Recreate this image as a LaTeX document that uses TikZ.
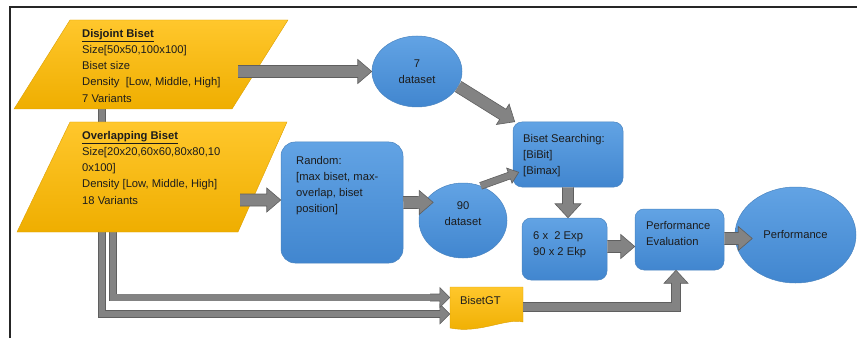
\documentclass[tikz,border=0pt]{standalone}
\usepackage{fontspec}
\setmainfont{Liberation Sans}
\usetikzlibrary{shapes,arrows,positioning,calc}

\definecolor{goldtop}{HTML}{FFC72C}
\definecolor{goldbot}{HTML}{EFAE00}
\definecolor{goldedge}{HTML}{DDA000}
\definecolor{bluetop}{HTML}{62A3E4}
\definecolor{bluebot}{HTML}{4186CF}
\definecolor{blueedge}{HTML}{4A84C0}
\definecolor{arrowfill}{HTML}{838383}
\definecolor{arrowedge}{HTML}{5F5F5F}
\definecolor{inktext}{HTML}{1C1C1C}

\begin{document}
\begin{tikzpicture}[x=1pt, y=1pt,
    font=\fontsize{11.2}{16.2}\selectfont,
    txt/.style={inner sep=0pt, align=left, text=inktext},
    gold/.style={top color=goldtop, bottom color=goldbot, draw=goldedge, line width=0.4pt},
    bluebox/.style={rectangle, rounded corners=#1, top color=bluetop, bottom color=bluebot,
      draw=blueedge, line width=0.5pt, inner sep=0pt},
    bluebox/.default=9pt,
    blueoval/.style={ellipse, top color=bluetop, bottom color=bluebot, draw=blueedge,
      line width=0.5pt, inner sep=0pt, align=center, text=inktext},
    % shaft half width, head half width, head length
    blockarrow/.style n args={3}{fill=arrowfill, draw=arrowedge, line width=0.6pt, line join=miter,
      to path={let \p1=(\tikztostart), \p2=(\tikztotarget),
        \n1={atan2(\y2-\y1,\x2-\x1)}, \n2={veclen(\x2-\x1,\y2-\y1)} in
        [shift={(\p1)}, rotate=\n1]
        (0,#1) -- (\n2-#3,#1) -- (\n2-#3,#2) -- (\n2,0) -- (\n2-#3,-#2) -- (\n2-#3,-#1) -- (0,-#1)}},
    fat/.style={blockarrow={6}{12}{14}},
    thin/.style={blockarrow={3.5}{8}{10}},
    slim/.style={blockarrow={3.5}{10}{10}},
    gtshaft/.style={draw=arrowedge, line width=0.6pt, double=arrowfill, double distance=6.4pt},
  ]
  \useasboundingbox (0,0) rectangle (857,338);
  \draw[line width=1.5pt, black!85] (10,0) -- (10,331) -- (857,331);

  % ground truth feeds, they run under the input sets
  \coordinate (d-drop) at (102,240);
  \coordinate (o-drop) at (113,120);
  \coordinate (gt-low) at (430,24);
  \coordinate (gt-high) at (430,40.5);
  \draw[gtshaft] (d-drop) |- (gt-low);
  \draw[gtshaft] (o-drop) |- (gt-high);

  % input sets
  \shade[gold] (70,318) -- (288,318) -- (232,229) -- (14,229) -- cycle;
  \shade[gold] (70,216) -- (287,216) -- (238,106) -- (17,106) -- cycle;
  \node[txt, anchor=north west] (disjoint) at (82,309)
    {\underline{\textbf{Disjoint Biset}}\\Size[50x50,100x100]\\Biset size\\Density\ \ [Low, Middle, High]\\7 Variants};
  \node[txt, anchor=north west] (overlap) at (82,207)
    {\underline{\textbf{Overlapping Biset}}\\Size[20x20,60x60,80x80,10\\0x100]\\Density [Low, Middle, High]\\18 Variants};

  % processing steps
  \node[bluebox=14pt, minimum width=122pt, minimum height=121pt] (random) at (342,135.5) {};
  \node[txt, anchor=north west] (random-txt) at (296,182)
    {Random:\\{[}max biset, max-\\overlap, biset\\position]};
  \node[blueoval, minimum width=90pt, minimum height=71pt] (set7) at (417,266.5) {7\\dataset};
  \node[blueoval, minimum width=88pt, minimum height=75pt] (set90) at (463,117.5) {};
  \node[txt, align=center] (set90-txt) at (463,124.5) {90\\dataset};
  \node[bluebox, minimum width=110pt, minimum height=65pt] (search) at (568,183.5) {};
  \node[txt, anchor=north west] (search-txt) at (523,204) {Biset Searching:\\{[}BiBit]\\{[}Bimax]};
  \node[bluebox, minimum width=85pt, minimum height=62pt] (exp) at (564.5,89) {};
  \node[txt, anchor=north west] (exp-txt) at (533,107) {6 x\ \ 2 Exp\\90 x 2 Ekp};
  \node[bluebox, minimum width=89pt, minimum height=61pt] (perfeval) at (679.5,98.5) {};
  \node[txt, anchor=north west] (perfeval-txt) at (646,117) {Performance\\Evaluation};
  \node[blueoval, minimum width=121pt, minimum height=96pt] (perf) at (795.5,103) {Performance};

  % ground truth
  \shade[gold] (450,51) -- (523,51) -- (523,16) .. controls (505,20) and (480,4) .. (450,10) -- cycle;
  \node[minimum width=73pt, minimum height=40pt, inner sep=0pt] (gt) at (486.5,31) {};
  \node[txt, anchor=west] (gt-txt) at (460,38) {BisetGT};

  % flow
  \coordinate (disj-out) at (238,266.5);
  \coordinate (ovl-out) at (240,138);
  \coordinate (exp-out) at ([yshift=2.5]exp.east);
  \draw[fat] (disj-out) to (set7.west);
  \draw[fat] (set7.340) to ([xshift=2]search.north west);
  \draw[fat] (ovl-out) to ([yshift=2.5]random.west);
  \draw[fat] (random.east) to ([xshift=9]set90.155);
  \draw[thin] (set90.63) to ([shift={(6,15)}]search.south west);
  \draw[blockarrow={5.5}{13}{14}] (search.south) to (search.south |- exp.north);
  \draw[fat] (exp-out) to (exp-out -| perfeval.west);
  \draw[fat] ([yshift=1]perfeval.east) to ([shift={(28,1)}]perfeval.east);
  \draw[slim] (gt-low) to ([yshift=-7]gt.west);
  \draw[slim] (gt-high) to ([yshift=9.5]gt.west);
  \coordinate (gt-up) at (676,50);
  \draw[gtshaft, double distance=8.4pt] (gt.east) -| (gt-up);
  \draw[blockarrow={4.5}{12}{13}] (gt-up) to (gt-up |- perfeval.south);
\end{tikzpicture}
\end{document}
